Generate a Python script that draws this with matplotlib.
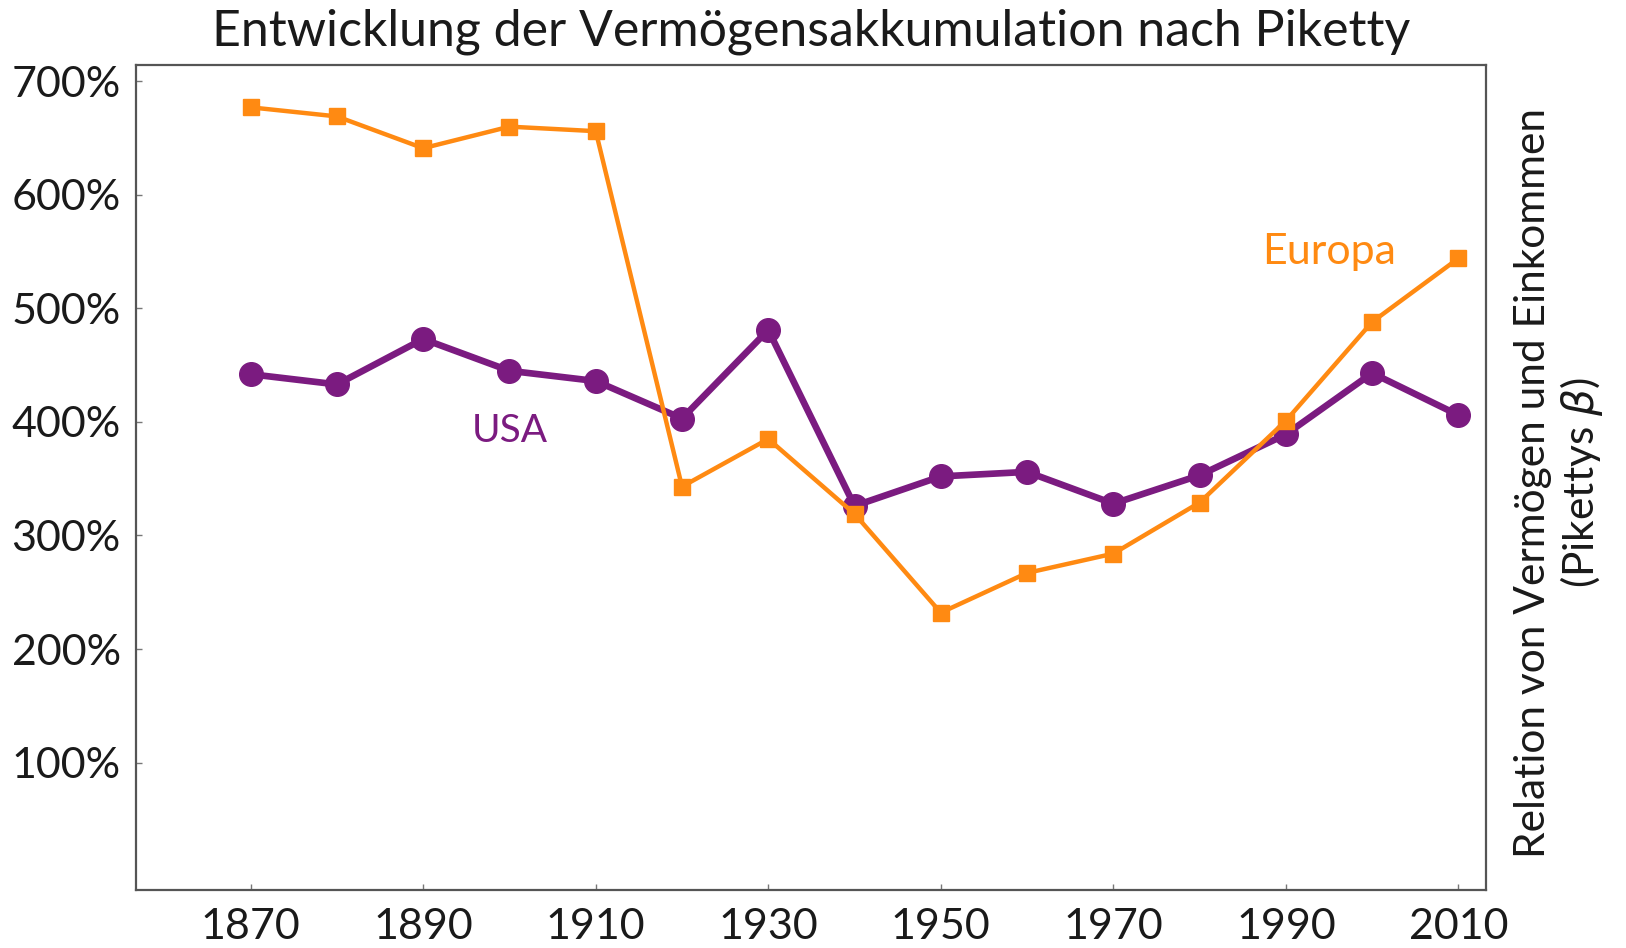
import matplotlib
matplotlib.use("Agg")
import matplotlib.pyplot as plt

# data (wealth / income ratio, in %)
years = [1870, 1880, 1890, 1900, 1910, 1920, 1930, 1940, 1950, 1960, 1970, 1980, 1990, 2000, 2010]
europa = [677, 669, 641, 660, 656, 343, 385, 319, 232, 267, 284, 329, 401, 488, 544]
usa = [442, 433, 473, 445, 436, 403, 481, 326, 352, 356, 328, 353, 389, 443, 406]

xticks = [1870, 1890, 1910, 1930, 1950, 1970, 1990, 2010]
yticks = [100, 200, 300, 400, 500, 600, 700]

orange = "#ff8a12"
purple = "#7b1b80"

plt.rcParams["font.family"] = ["Lato", "DejaVu Sans"]
plt.rcParams["mathtext.fontset"] = "dejavusans"

fig = plt.figure(figsize=(16.26, 9.48), dpi=100)
ax = fig.add_axes([0.0836, 0.0614, 0.8303, 0.8697])

ax.plot(years, usa, color=purple, lw=4.8, marker="o", ms=17, zorder=2)
ax.plot(years, europa, color=orange, lw=3.2, marker="s", ms=11.5, zorder=3)

ax.text(1900, 392, "USA", color=purple, fontsize=28, ha="center", va="center")
ax.text(1995, 550, "Europa", color=orange, fontsize=31, ha="center", va="center")

ax.set_xlim(1856.7, 2013.2)
ax.set_ylim(-12, 714)
ax.set_xticks(xticks)
ax.set_yticks(yticks)
ax.set_yticklabels([f"{v}%" for v in yticks])

for s in ax.spines.values():
    s.set_color("#555555")
    s.set_linewidth(1.6)
ax.tick_params(direction="in", length=4, width=1, color="#777777",
               labelsize=31, labelcolor="#1a1a1a")
ax.tick_params(axis="y", pad=11)
ax.tick_params(axis="x", pad=13)

fig.text(0.499, 0.966, "Entwicklung der Vermögensakkumulation nach Piketty",
         ha="center", va="center", fontsize=36, color="#1a1a1a")
fig.text(0.959, 0.491, "Relation von Vermögen und Einkommen\n(Pikettys $\\beta$)",
         rotation=90, ha="center", va="center", fontsize=30.5, color="#1a1a1a",
         linespacing=1.15, multialignment="center")

fig.savefig("out.png", dpi=100)
